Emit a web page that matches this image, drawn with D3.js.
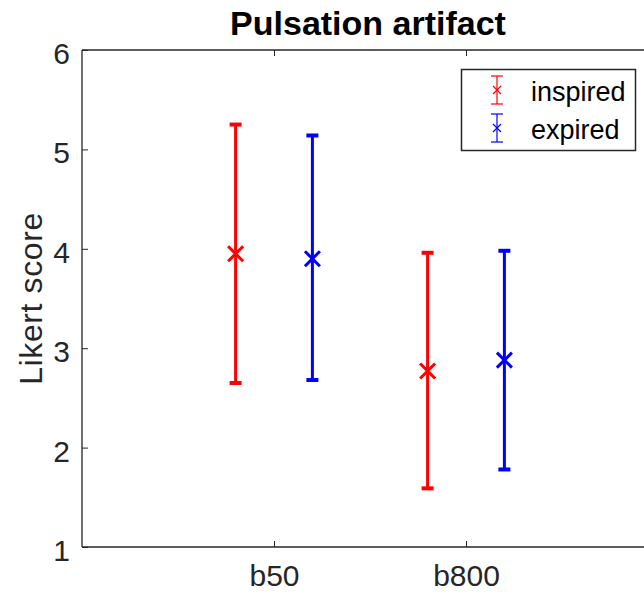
<!DOCTYPE html>
<html>
<head>
<meta charset="utf-8">
<script src="https://cdn.jsdelivr.net/npm/d3@7"></script>
<style>
  body { margin: 0; background: #fff; overflow: hidden; }
  text { font-family: "Liberation Sans", Arial, sans-serif; fill: #262626; }
</style>
</head>
<body>
<div id="chart"></div>
<script>
// data
const groups = ["b50", "b800"];
const seriesNames = ["inspired", "expired"];
const seriesColors = ["#ff0000", "#0000ff"];
const means = [[3.95, 2.77], [3.90, 2.88]];
const upper = [[5.25, 3.96], [5.14, 3.98]];
const lower = [[2.65, 1.59], [2.68, 1.78]];
const offsets = [-0.2, 0.2];
const yTicks = [1, 2, 3, 4, 5, 6];

const width = 644, height = 594;
const margin = {top: 50, right: -14, bottom: 47, left: 82};

var svg = d3.select("#chart").append("svg")
  .attr("width", width)
  .attr("height", height)
  .style("display", "block");

var x = d3.scaleLinear().domain([0, 3]).range([margin.left, width - margin.right]);
var y = d3.scaleLinear().domain([1, 6]).range([height - margin.bottom, margin.top]);

var axisColor = "#262626";

// axes box (right side falls outside the picture)
var box = svg.append("g").attr("stroke", axisColor).attr("stroke-width", 1.3);
box.append("line").attr("x1", x(0)).attr("x2", x(0)).attr("y1", y(1)).attr("y2", y(6));
box.append("line").attr("x1", x(0)).attr("x2", x(3)).attr("y1", y(1)).attr("y2", y(1));
box.append("line").attr("x1", x(0)).attr("x2", x(3)).attr("y1", y(6)).attr("y2", y(6));

// y axis
var yAxis = svg.append("g")
  .attr("transform", "translate(" + x(0) + ",0)")
  .call(d3.axisLeft(y).tickValues(yTicks).tickSize(-6).tickPadding(12).tickFormat(d3.format("d")));
yAxis.select(".domain").remove();
yAxis.selectAll("line").attr("stroke", axisColor);
yAxis.selectAll("text").style("font-size", "30px").attr("dy", "0.45em").attr("fill", axisColor);

// x axis
var xAxis = svg.append("g")
  .attr("transform", "translate(0," + y(1) + ")")
  .call(d3.axisBottom(x).tickValues([1, 2]).tickSize(-6).tickPadding(20)
    .tickFormat(function(d) { return groups[d - 1]; }));
xAxis.select(".domain").remove();
xAxis.selectAll("line").attr("stroke", axisColor);
xAxis.selectAll("text").style("font-size", "30px").attr("dy", "0.62em").attr("fill", axisColor);

// mirrored ticks on top
svg.append("g")
  .attr("transform", "translate(0," + y(6) + ")")
  .call(d3.axisTop(x).tickValues([1, 2]).tickSize(-6).tickFormat(""))
  .call(g => g.select(".domain").remove())
  .selectAll("line").attr("stroke", axisColor);

// title and label
svg.append("text")
  .attr("x", (x(0) + x(3)) / 2 - 2).attr("y", 35)
  .attr("text-anchor", "middle")
  .style("font-size", "34px").style("font-weight", "bold")
  .style("fill", "#000")
  .text("Pulsation artifact");

svg.append("text")
  .attr("transform", "translate(42," + (y(1) + y(6)) / 2 + ") rotate(-90)")
  .attr("text-anchor", "middle")
  .style("font-size", "32px")
  .style("letter-spacing", "0.6px")
  .text("Likert score");

// error bars
var capW = 6, markR = 7.5;
seriesNames.forEach(function(name, s) {
  var g = svg.append("g").attr("stroke", seriesColors[s]);
  groups.forEach(function(grp, i) {
    var cx = x(i + 1 + offsets[s]);
    g.append("line")
      .attr("x1", cx).attr("x2", cx)
      .attr("y1", y(lower[s][i])).attr("y2", y(upper[s][i]))
      .attr("stroke-width", 3);
    [lower[s][i], upper[s][i]].forEach(function(v) {
      g.append("line")
        .attr("x1", cx - capW).attr("x2", cx + capW)
        .attr("y1", y(v)).attr("y2", y(v))
        .attr("stroke-width", 4);
    });
    var my = y(means[s][i]);
    g.append("path")
      .attr("d", "M" + (cx - markR) + "," + (my - markR) + "L" + (cx + markR) + "," + (my + markR) +
                 "M" + (cx - markR) + "," + (my + markR) + "L" + (cx + markR) + "," + (my - markR))
      .attr("stroke-width", 3);
  });
});

// legend
var legend = svg.append("g");
legend.append("rect")
  .attr("x", 461.5).attr("y", 69.5).attr("width", 174).attr("height", 81)
  .attr("fill", "#fff").attr("stroke", axisColor).attr("stroke-width", 1.5);

seriesNames.forEach(function(name, s) {
  var ly = 90 + s * 38, lx = 497;
  var lg = legend.append("g").attr("stroke", seriesColors[s]).attr("stroke-width", 1.2);
  lg.append("line").attr("x1", lx).attr("x2", lx).attr("y1", ly - 14).attr("y2", ly + 14);
  lg.append("line").attr("x1", lx - 6).attr("x2", lx + 6).attr("y1", ly - 14).attr("y2", ly - 14);
  lg.append("line").attr("x1", lx - 6).attr("x2", lx + 6).attr("y1", ly + 14).attr("y2", ly + 14);
  lg.append("path").attr("d", "M" + (lx - 4) + "," + (ly - 4) + "L" + (lx + 4) + "," + (ly + 4) +
    "M" + (lx - 4) + "," + (ly + 4) + "L" + (lx + 4) + "," + (ly - 4));
  legend.append("text")
    .attr("x", 531).attr("y", ly + 11)
    .style("font-size", "27px").style("fill", "#000")
    .text(name);
});
</script>
</body>
</html>
